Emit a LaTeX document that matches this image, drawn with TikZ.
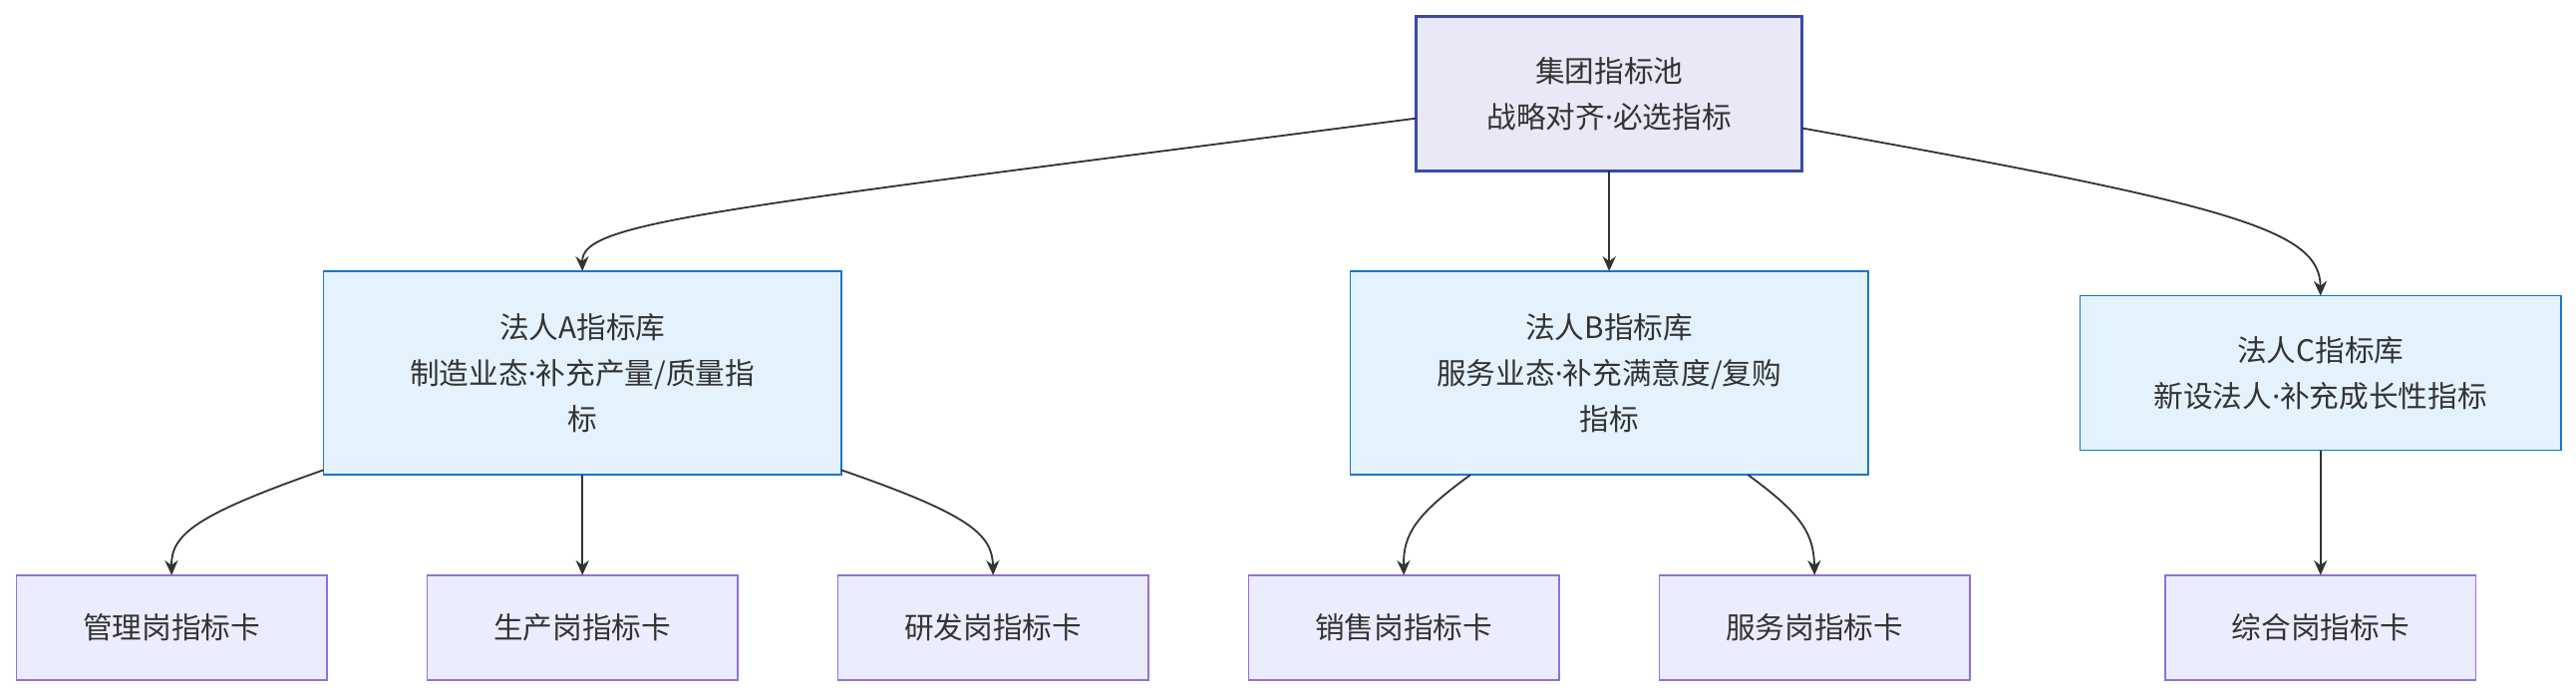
\documentclass[tikz,border=0pt]{standalone}
\usepackage{fontspec}
\newfontfamily\cjk{Noto Sans CJK SC}
\newfontfamily\latinf{Noto Sans}
\newcommand{\mdt}{{\latinf ·}}
\usetikzlibrary{arrows.meta}
\definecolor{topfill}{HTML}{E8E8F6}
\definecolor{topdraw}{HTML}{3949AB}
\definecolor{midfill}{HTML}{E3F2FD}
\definecolor{middraw}{HTML}{1976D2}
\definecolor{leaffill}{HTML}{ECECFF}
\definecolor{leafdraw}{HTML}{9370DB}
\definecolor{edge}{HTML}{333333}
\tikzset{
 base/.style={font=\cjk\fontsize{18}{28}\selectfont, text=black!80, align=center, inner sep=0pt, outer sep=0pt},
 topbox/.style={base, draw=topdraw, fill=topfill, line width=2pt, minimum width=235pt, minimum height=94pt},
 midbox/.style={base, draw=middraw, fill=midfill, line width=1pt, minimum width=315pt, minimum height=124pt},
 leafbox/.style={base, draw=leafdraw, fill=leaffill, line width=1pt, minimum width=189pt, minimum height=64pt},
 conn/.style={draw=edge, line width=1.1pt, -{Stealth[length=9pt,width=8pt]}}
}
\begin{document}
\begin{tikzpicture}[x=1pt,y=-1pt]
\useasboundingbox[fill=white] (0,0) rectangle (1568,425);
\node[topbox] (top) at (979.5,57) {集团指标池\\战略对齐\mdt 必选指标};
\node[midbox] (A) at (354.5,227) {法人A指标库\\制造业态\mdt 补充产量/质量指\\标};
\node[midbox] (B) at (979.5,227) {法人B指标库\\服务业态\mdt 补充满意度/复购\\指标};
\node[midbox, minimum width=293pt, minimum height=94pt] (C) at (1412.5,227) {法人C指标库\\新设法人\mdt 补充成长性指标};
\node[leafbox] (l1) at (104.5,382) {管理岗指标卡};
\node[leafbox] (l2) at (354.5,382) {生产岗指标卡};
\node[leafbox] (l3) at (604.5,382) {研发岗指标卡};
\node[leafbox] (l4) at (854.5,382) {销售岗指标卡};
\node[leafbox] (l5) at (1104.5,382) {服务岗指标卡};
\node[leafbox] (l6) at (1412.5,382) {综合岗指标卡};
\coordinate (t1) at ([yshift=-15pt]top.west);
\coordinate (t2) at ([yshift=-21pt]top.east);
\draw[conn] (t1) .. controls (430,128) and (354,135) .. (A.north);
\draw[conn] (top) -- (B);
\draw[conn] (t2) .. controls (1360,125) and (1412,140) .. (C.north);
\coordinate (a1) at ([yshift=3pt]A.south west);
\coordinate (a3) at ([yshift=3pt]A.south east);
\coordinate (b1) at (895,289);
\coordinate (b2) at (1064,289);
\draw[conn] (a1) .. controls (120,313) and (104,325) .. (l1.north);
\draw[conn] (A) -- (l2);
\draw[conn] (a3) .. controls (590,313) and (604,325) .. (l3.north);
\draw[conn] (b1) .. controls (862,313) and (854,325) .. (l4.north);
\draw[conn] (b2) .. controls (1097,313) and (1104,325) .. (l5.north);
\draw[conn] (C) -- (l6);
\end{tikzpicture}
\end{document}
